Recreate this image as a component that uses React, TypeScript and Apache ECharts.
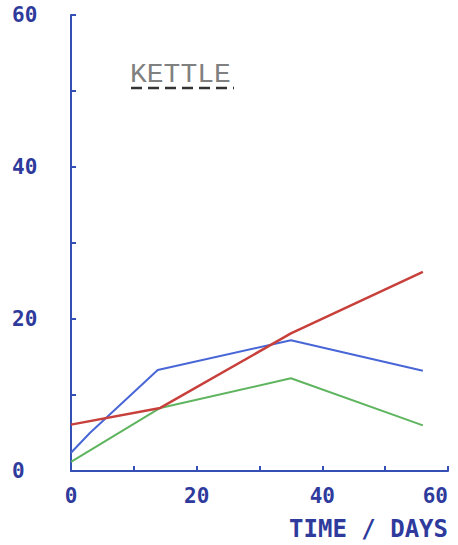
import React, { useEffect, useRef } from "react";
import * as echarts from "echarts";

const xTicks = [0, 20, 40, 60];
const yTicks = [0, 20, 40, 60];
const redSeries: [number, number][] = [[0, 6.1], [14.2, 8.3], [35, 18.1], [56, 26.2]];
const blueSeries: [number, number][] = [[0, 2.4], [3, 5], [13.8, 13.3], [35, 17.2], [56, 13.2]];
const greenSeries: [number, number][] = [[0, 1.2], [14.2, 8.3], [35, 12.2], [56, 6]];
const legendLabel = "KETTLE";
const xAxisTitle = "TIME / DAYS";

const AXIS = "#3550b5";
const LABEL = "#2e3b9c";
const LABEL_FONT = "'DejaVu Sans Mono', monospace";

export default function App() {
  const ref = useRef<HTMLDivElement>(null);
  useEffect(() => {
    document.body.style.margin = "0";
    if (!ref.current) return;
    const chart = echarts.init(ref.current, null, { renderer: "svg" });
    const mk = (name: string, data: [number, number][], color: string, width: number) => ({
      name,
      type: "line",
      data,
      showSymbol: false,
      symbol: "none",
      lineStyle: { color, width },
      itemStyle: { color },
    });
    chart.setOption({
      animation: false,
      backgroundColor: "#ffffff",
      grid: { left: 71, right: 10, top: 15, bottom: 74, containLabel: false },
      xAxis: {
        type: "value",
        min: 0,
        max: 60,
        interval: 10,
        splitLine: { show: false },
        axisLine: { lineStyle: { color: AXIS, width: 2 } },
        axisTick: { inside: true, length: 5, lineStyle: { color: AXIS, width: 2 } },
        axisLabel: {
          color: LABEL,
          fontFamily: LABEL_FONT,
          fontWeight: "bold",
          fontSize: 21,
          margin: 14,
          alignMaxLabel: "right",
          formatter: (v: number) => (xTicks.includes(v) ? String(v) : ""),
        },
      },
      yAxis: {
        type: "value",
        min: 0,
        max: 60,
        interval: 10,
        splitLine: { show: false },
        axisLine: { lineStyle: { color: AXIS, width: 2 } },
        axisTick: { inside: true, length: 5, lineStyle: { color: AXIS, width: 2 } },
        axisLabel: {
          color: LABEL,
          fontFamily: LABEL_FONT,
          fontWeight: "bold",
          fontSize: 21,
          align: "left",
          margin: 59,
          formatter: (v: number) => (yTicks.includes(v) ? String(v) : ""),
        },
      },
      series: [
        mk("green", greenSeries, "#5fb55f", 2),
        mk("blue", blueSeries, "#4866d6", 2),
        mk("red", redSeries, "#c8403c", 2.5),
      ],
      graphic: [
        {
          type: "text",
          left: 130,
          top: 60,
          style: {
            text: legendLabel,
            font: "normal 28px 'Liberation Mono', monospace",
            fill: "#808080",
          },
        },
        {
          type: "line",
          shape: { x1: 131, y1: 88, x2: 234, y2: 88 },
          style: { stroke: "#333333", lineWidth: 2.5, lineDash: [11, 6] },
        },
        {
          type: "text",
          right: 10,
          top: 516,
          style: {
            text: xAxisTitle,
            font: "bold 24px 'DejaVu Sans Mono', monospace",
            lineHeight: 26,
            fill: LABEL,
          },
        },
      ],
    });
    return () => chart.dispose();
  }, []);
  return <div ref={ref} style={{ width: 458, height: 545 }} />;
}
